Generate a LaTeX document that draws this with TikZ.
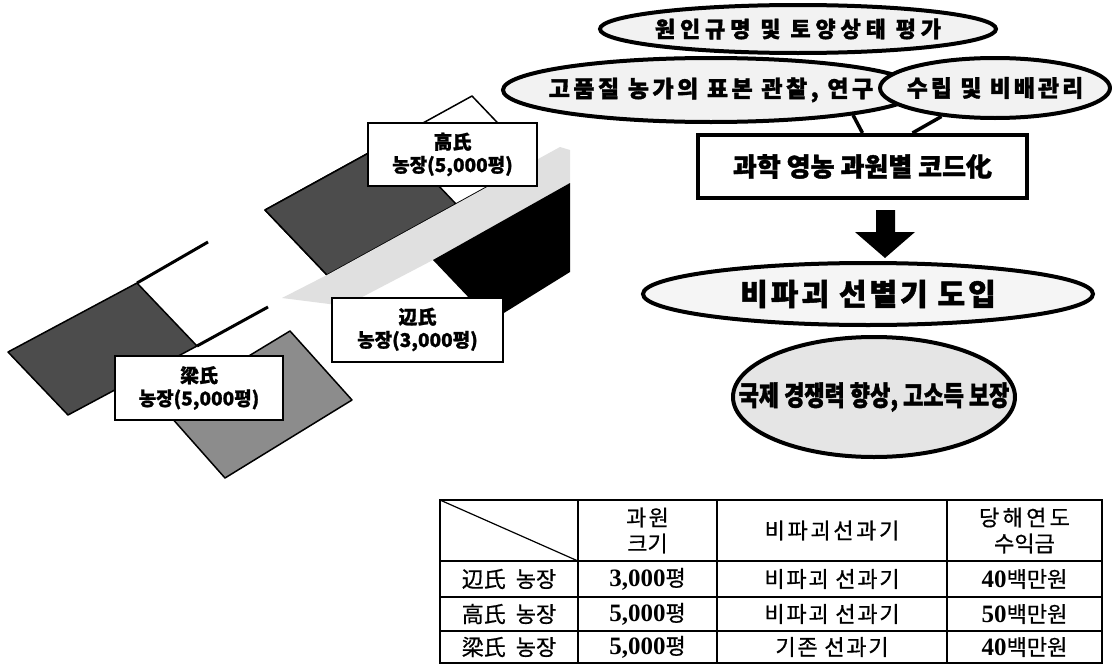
\documentclass[tikz,border=0pt]{standalone}
\usepackage{fontspec}
\newfontfamily\kr{Noto Sans CJK KR}
\newfontfamily\tnum{Liberation Serif}
\usetikzlibrary{shapes.geometric,calc}
\definecolor{darkfield}{gray}{0.30}
\definecolor{midfield}{gray}{0.55}
\definecolor{roadgray}{gray}{0.88}
\tikzset{
  bubble/.style={ellipse, draw=black, line width=4pt, fill=black!5, inner sep=0pt},
  flowbox/.style={rectangle, draw=black, line width=4pt, fill=white, inner sep=0pt},
  farmlabel/.style={rectangle, draw=black, line width=2pt, fill=white, inner sep=0pt, align=center,
     font=\kr\bfseries\fontsize{19}{23}\selectfont\addfontfeature{FakeBold=1}},
  cell/.style={inner sep=0pt, align=center, font=\kr\fontsize{22}{26}\selectfont\addfontfeature{FakeBold=0.6}},
  tail/.style={line width=3.5pt},
  fieldedge/.style={draw=black, line width=1.5pt, line join=round},
  tabline/.style={line width=1.6pt},
}
\newcommand{\heavy}[1]{\kr\bfseries\fontsize{#1}{#1}\selectfont\addfontfeature{FakeBold=1.5}}
\begin{document}
\begin{tikzpicture}[x=1pt,y=-1pt]
\useasboundingbox (0,0) rectangle (1112,664);
\fill[white] (0,0) rectangle (1112,664);

% ---------- map ----------
% Ko farm
\filldraw[fill=white, fieldedge] (265,210) -- (472,96) -- (534,161) -- (327,275) -- cycle;
\filldraw[fill=darkfield, fieldedge] (265,210) -- (394,139) -- (456,204) -- (327,275) -- cycle;
% road
\fill[roadgray] (282,298) -- (327,275) -- (560,147) -- (570,150) -- (570,183) -- (433,260) -- (345,306) -- cycle;
% Byeon farm (black)
\fill[black] (433,260) -- (570,183) -- (570,272) -- (491,321) -- cycle;
% Ryang farm
\draw[line width=3pt] (137,283) -- (208,242);
\draw[line width=3pt] (197,346) -- (268,307);
\filldraw[fill=darkfield, fieldedge] (8,352) -- (137,283) -- (197,346) -- (68,415) -- cycle;
\filldraw[fill=midfield, fieldedge] (290,331) -- (352,400) -- (225,478) -- (163,408) -- cycle;

% farm labels
\node[farmlabel, minimum width=169pt, minimum height=63pt] (kao) at (452.5,154.5) {高氏\\농장(5,000평)};
\node[farmlabel, minimum width=171pt, minimum height=64pt] (hen) at (417.5,329.5) {辺氏\\농장(3,000평)};
\node[farmlabel, minimum width=168pt, minimum height=64pt] (ryo) at (199,388) {梁氏\\농장(5,000평)};

% ---------- flow ----------
\node[bubble, minimum width=396pt, minimum height=48pt] (e1) at (798,29)
  {\makebox[0pt]{\heavy{22}\addfontfeature{LetterSpace=22}원인규명 및 토양상태 평가}};
\node[bubble, minimum width=416pt, minimum height=64pt] (e2) at (711,90)
  {\makebox[0pt]{\heavy{23}\addfontfeature{LetterSpace=15}고품질 농가의 표본 관찰, 연구}};
\node[bubble, minimum width=230pt, minimum height=60pt] (e3) at (995,88)
  {\makebox[0pt]{\heavy{23}\addfontfeature{LetterSpace=13}수립 및 비배관리}};
\node[flowbox, minimum width=329pt, minimum height=63pt] (code) at (862.5,166.5)
  {\heavy{26}과학 영농 과원별 코드化};
\draw[tail] (e2.-10.8) -- (code.north);
\draw[tail] (e3.-152) -- ($(code.north)+(50,0)$);
\node[bubble, minimum width=450pt, minimum height=62pt, fill=black!4] (e4) at (868,294)
  {\makebox[0pt]{\heavy{30}\addfontfeature{LetterSpace=10}비파괴 선별기 도입}};
\fill[black] ($(code.south)+(13.5,10)$) -- ++(19,0) -- ++(0,22) -- ++(20,0) -- ++(-30,26)
   -- ++(-30,-26) -- ++(21,0) -- cycle;
\node[bubble, minimum width=282pt, minimum height=120pt, fill=black!10] (e5) at (874,397)
  {\makebox[0pt]{\scalebox{1}[1.25]{\heavy{22}국제 경쟁력 향상, 고소득 보장}}};

% ---------- table ----------
\draw[tabline] (440,500) rectangle (1102,663);
\draw[tabline] (440,561) -- (1102,561);
\draw[tabline] (440,597) -- (1102,597);
\draw[tabline] (440,631) -- (1102,631);
\draw[tabline] (578,500) -- (578,663);
\draw[tabline] (717,500) -- (717,663);
\draw[tabline] (947,500) -- (947,663);
\draw[line width=1.2pt] (440,500) -- (578,561);

\node[cell] (h2) at (647.5,530.5) {\addfontfeature{LetterSpace=10}과원\\크기};
\node[cell] (h3) at (832,530.5) {\addfontfeature{LetterSpace=12}비파괴선과기};
\node[cell] (h4) at (1024.5,530.5) {\addfontfeature{LetterSpace=15}당해연도\\수익금};

\node[cell] (r1c1) at (509,579) {辺氏\hspace{10pt}농장};
\node[cell] (r2c1) at (509,614) {高氏\hspace{10pt}농장};
\node[cell] (r3c1) at (509,647) {梁氏\hspace{10pt}농장};
\node[cell] (r1c2) at (647.5,579) {{\tnum\bfseries\fontsize{25}{26}\selectfont 3,000}평};
\node[cell] (r2c2) at (647.5,614) {{\tnum\bfseries\fontsize{25}{26}\selectfont 5,000}평};
\node[cell] (r3c2) at (647.5,647) {{\tnum\bfseries\fontsize{25}{26}\selectfont 5,000}평};
\node[cell] (r1c3) at (832,579) {\addfontfeature{LetterSpace=8}비파괴 선과기};
\node[cell] (r2c3) at (832,614) {\addfontfeature{LetterSpace=8}비파괴 선과기};
\node[cell] (r3c3) at (832,647) {\addfontfeature{LetterSpace=8}기존 선과기};
\node[cell] (r1c4) at (1024.5,579) {{\tnum\bfseries\fontsize{25}{26}\selectfont 40}백만원};
\node[cell] (r2c4) at (1024.5,614) {{\tnum\bfseries\fontsize{25}{26}\selectfont 50}백만원};
\node[cell] (r3c4) at (1024.5,647) {{\tnum\bfseries\fontsize{25}{26}\selectfont 40}백만원};
\end{tikzpicture}
\end{document}
